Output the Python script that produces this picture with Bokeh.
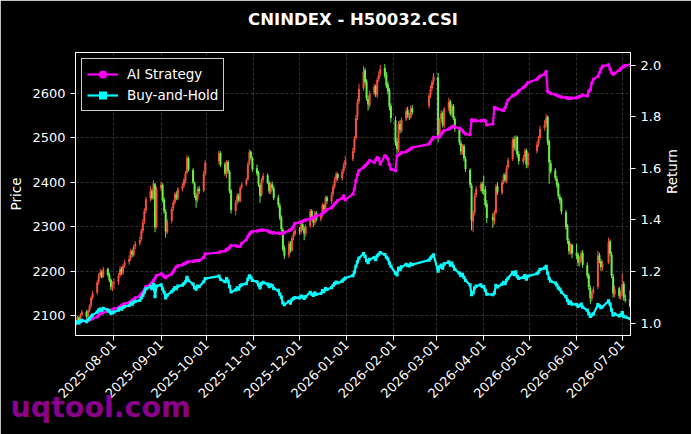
import math
import numpy as np
import pandas as pd
from bokeh.plotting import figure
from bokeh.models import (ColumnDataSource, Range1d, LinearAxis, FixedTicker,
                          DatetimeTickFormatter, PrintfTickFormatter, Title)
from bokeh.embed import file_html
from bokeh.resources import INLINE

FONT = "DejaVu Sans"
chart_title = "CNINDEX - H50032.CSI"
watermark_text = "uqtool.com"
series_names = ["AI Strategy", "Buy-and-Hold"]
first_day, last_day = "2025-07-07", "2026-07-06"
market_holidays = ["2025-10-01", "2025-10-02", "2025-10-03", "2025-10-06", "2025-10-07",
                   "2025-10-08", "2026-01-01", "2026-01-02", "2026-02-16", "2026-02-17",
                   "2026-02-18", "2026-02-19", "2026-02-20", "2026-02-23", "2026-04-06",
                   "2026-05-01", "2026-05-04", "2026-05-05", "2026-06-19"]
xtick_labels = ["2025-08-01", "2025-09-01", "2025-10-01", "2025-11-01", "2025-12-01",
                "2026-01-01", "2026-02-01", "2026-03-01", "2026-04-01", "2026-05-01",
                "2026-06-01", "2026-07-01"]
price_ticks = [2100, 2200, 2300, 2400, 2500, 2600]
return_ticks = [1.0, 1.2, 1.4, 1.6, 1.8, 2.0]

opens = [
    2080, 2086, 2097, 2089, 2103, 2109, 2099, 2113, 2123, 2141, 2152, 2176, 2191, 2199, 2189, 2206, 2193, 2181, 2163,
    2172, 2176, 2191, 2206, 2197, 2213, 2221, 2229, 2246, 2237, 2256, 2263, 2272, 2291, 2312, 2337, 2364, 2381, 2366, 2396, 2302,
    2387, 2394, 2361, 2334, 2288, 2314, 2342, 2354, 2374, 2364, 2386, 2393, 2404, 2422, 2454, 2428, 2398, 2371, 2362, 2386, 2382, 2421,
    2448, 2466, 2441, 2419, 2446, 2424, 2381, 2336, 2357, 2371, 2358, 2390, 2396, 2407, 2442, 2469, 2454,
    2432, 2421, 2394, 2372, 2406, 2416, 2399, 2378, 2396, 2387, 2366, 2348, 2321, 2294, 2252, 2236, 2263, 2247, 2277, 2284,
    2293, 2289, 2306, 2297, 2284, 2302, 2336, 2319, 2309, 2331, 2317, 2326, 2349, 2339, 2366, 2357, 2374, 2391, 2406, 2419, 2409, 2426, 2439,
    2452, 2472, 2500, 2547, 2582, 2612, 2652, 2627, 2588, 2573, 2602, 2617, 2596, 2632, 2644, 2657, 2642, 2620, 2607, 2572,
    2540, 2492, 2473, 2532, 2516, 2542, 2562, 2550, 2546, 2567, 2572, 2597, 2612, 2627,
    2636, 2503, 2542, 2556, 2528, 2567, 2582, 2553, 2572, 2543, 2518, 2488, 2468, 2482, 2453, 2428, 2393, 2312, 2332, 2372, 2387, 2397,
    2382, 2384, 2352, 2322, 2312, 2332, 2392, 2376, 2402, 2417, 2403, 2434, 2452, 2497, 2476, 2502, 2464, 2446, 2457, 2472, 2438,
    2470, 2487, 2500, 2522, 2532, 2548, 2492, 2443, 2427, 2408, 2397, 2368, 2362, 2333, 2302, 2268, 2243, 2260,
    2242, 2237, 2218, 2226, 2242, 2213, 2192, 2163, 2138, 2152, 2165, 2237, 2223, 2208, 2220, 2267, 2238, 2188, 2148, 2162, 2143,
    2152, 2172, 2138, 2137,
]
highs = [
    2092, 2100, 2099, 2106, 2114, 2112, 2115, 2126, 2145, 2156, 2180, 2196, 2206, 2203, 2210, 2208, 2197, 2184, 2178,
    2184, 2196, 2212, 2210, 2216, 2226, 2236, 2250, 2249, 2260, 2268, 2278, 2296, 2318, 2342, 2368, 2392, 2386, 2405, 2399, 2390,
    2402, 2398, 2366, 2340, 2318, 2345, 2360, 2378, 2380, 2390, 2398, 2410, 2426, 2462, 2458, 2432, 2402, 2376, 2390, 2392, 2426, 2450,
    2472, 2470, 2446, 2450, 2450, 2428, 2385, 2360, 2376, 2375, 2392, 2400, 2410, 2446, 2474, 2472, 2458,
    2440, 2426, 2398, 2410, 2422, 2420, 2404, 2400, 2402, 2392, 2372, 2354, 2326, 2298, 2258, 2268, 2268, 2280, 2290, 2298,
    2300, 2312, 2310, 2302, 2306, 2340, 2340, 2324, 2336, 2335, 2330, 2354, 2352, 2370, 2370, 2378, 2396, 2412, 2424, 2422, 2430, 2445, 2460,
    2478, 2504, 2552, 2588, 2622, 2662, 2658, 2632, 2595, 2606, 2622, 2620, 2636, 2650, 2664, 2666, 2648, 2626, 2612, 2578,
    2548, 2500, 2538, 2540, 2546, 2568, 2570, 2556, 2572, 2574, 2600, 2618, 2630, 2646,
    2646, 2545, 2562, 2560, 2570, 2590, 2586, 2576, 2576, 2548, 2522, 2494, 2486, 2486, 2458, 2432, 2398, 2336, 2376, 2392, 2400, 2402,
    2415, 2392, 2360, 2332, 2338, 2396, 2400, 2406, 2420, 2422, 2438, 2456, 2500, 2504, 2506, 2505, 2470, 2462, 2476, 2476, 2470,
    2492, 2505, 2528, 2540, 2554, 2550, 2496, 2450, 2432, 2414, 2400, 2374, 2366, 2338, 2306, 2274, 2264, 2262,
    2262, 2242, 2234, 2246, 2248, 2220, 2196, 2168, 2156, 2166, 2246, 2242, 2228, 2224, 2276, 2272, 2244, 2194, 2168, 2166, 2156,
    2195, 2178, 2148, 2157,
]
lows = [
    2074, 2082, 2084, 2085, 2099, 2094, 2095, 2108, 2118, 2136, 2148, 2170, 2186, 2184, 2185, 2188, 2176, 2158, 2155,
    2160, 2170, 2186, 2192, 2192, 2208, 2215, 2224, 2232, 2233, 2250, 2258, 2268, 2286, 2306, 2330, 2358, 2360, 2362, 2288, 2296,
    2380, 2355, 2330, 2276, 2284, 2308, 2336, 2350, 2360, 2360, 2380, 2388, 2398, 2418, 2425, 2396, 2365, 2343, 2355, 2374, 2378, 2415,
    2440, 2435, 2415, 2410, 2420, 2375, 2330, 2326, 2350, 2355, 2355, 2385, 2392, 2403, 2438, 2450, 2424,
    2415, 2390, 2354, 2368, 2400, 2396, 2374, 2374, 2382, 2360, 2344, 2315, 2290, 2245, 2228, 2230, 2242, 2244, 2270, 2280,
    2282, 2284, 2292, 2270, 2278, 2298, 2314, 2300, 2304, 2312, 2312, 2322, 2335, 2334, 2352, 2352, 2368, 2386, 2400, 2404, 2404, 2420, 2432,
    2448, 2466, 2496, 2540, 2576, 2606, 2618, 2584, 2562, 2568, 2596, 2592, 2590, 2626, 2638, 2634, 2612, 2598, 2562, 2535,
    2482, 2465, 2468, 2510, 2512, 2538, 2545, 2540, 2543, 2552, 2566, 2590, 2605, 2620,
    2490, 2498, 2536, 2524, 2522, 2560, 2550, 2548, 2540, 2514, 2484, 2462, 2462, 2448, 2424, 2388, 2292, 2288, 2326, 2366, 2380, 2374,
    2372, 2344, 2309, 2298, 2305, 2328, 2372, 2372, 2396, 2400, 2398, 2430, 2448, 2472, 2470, 2456, 2440, 2440, 2450, 2432, 2432,
    2465, 2480, 2496, 2516, 2526, 2484, 2397, 2420, 2404, 2388, 2364, 2352, 2328, 2294, 2262, 2238, 2238, 2230,
    2228, 2212, 2210, 2220, 2208, 2184, 2158, 2127, 2132, 2148, 2160, 2218, 2201, 2202, 2216, 2234, 2185, 2141, 2142, 2138, 2136,
    2146, 2134, 2130, 2119,
]
closes = [
    2085, 2096, 2088, 2102, 2108, 2098, 2112, 2122, 2140, 2150, 2175, 2190, 2198, 2188, 2205, 2192, 2180, 2165, 2170,
    2175, 2190, 2205, 2198, 2212, 2220, 2228, 2245, 2238, 2255, 2262, 2270, 2290, 2310, 2335, 2362, 2380, 2365, 2398, 2300, 2385,
    2395, 2360, 2335, 2290, 2312, 2340, 2355, 2372, 2365, 2385, 2392, 2405, 2420, 2455, 2430, 2400, 2372, 2360, 2385, 2380, 2420, 2445,
    2465, 2440, 2420, 2445, 2425, 2380, 2338, 2355, 2370, 2360, 2388, 2395, 2405, 2440, 2468, 2455, 2430,
    2420, 2395, 2370, 2405, 2415, 2400, 2380, 2395, 2388, 2365, 2350, 2320, 2295, 2250, 2235, 2262, 2248, 2275, 2285, 2292,
    2290, 2305, 2298, 2285, 2300, 2335, 2320, 2310, 2330, 2318, 2325, 2348, 2340, 2365, 2358, 2372, 2390, 2405, 2418, 2410, 2425, 2438, 2450,
    2470, 2498, 2545, 2580, 2610, 2648, 2625, 2590, 2575, 2600, 2615, 2598, 2630, 2642, 2655, 2640, 2618, 2605, 2570, 2545,
    2490, 2475, 2530, 2518, 2540, 2560, 2552, 2548, 2565, 2558, 2595, 2610, 2625, 2638,
    2505, 2540, 2555, 2530, 2565, 2580, 2555, 2570, 2545, 2520, 2490, 2470, 2480, 2455, 2430, 2395, 2315, 2330, 2370, 2385, 2395, 2380,
    2380, 2350, 2320, 2315, 2330, 2390, 2378, 2400, 2415, 2405, 2432, 2450, 2495, 2478, 2500, 2462, 2448, 2455, 2470, 2440, 2465,
    2485, 2498, 2520, 2530, 2545, 2490, 2445, 2425, 2410, 2395, 2370, 2360, 2335, 2300, 2270, 2245, 2258, 2240,
    2235, 2220, 2228, 2240, 2215, 2190, 2165, 2140, 2150, 2160, 2235, 2225, 2210, 2218, 2265, 2240, 2190, 2150, 2160, 2145, 2150,
    2170, 2140, 2135, 2122,
]
ai_strategy = [
    1.000, 1.003, 1.002, 1.006, 1.008, 1.010, 1.011, 1.013, 1.016, 1.018, 1.024, 1.030, 1.038, 1.040, 1.043, 1.046, 1.048, 1.050, 1.052,
    1.056, 1.060, 1.064, 1.068, 1.072, 1.075, 1.080, 1.084, 1.088, 1.093, 1.098, 1.105, 1.114, 1.120, 1.130, 1.142, 1.150, 1.158, 1.165, 1.175, 1.185,
    1.191, 1.188, 1.180, 1.176, 1.182, 1.191, 1.200, 1.210, 1.219, 1.222, 1.226, 1.230, 1.232, 1.236, 1.238, 1.240, 1.241, 1.242, 1.243, 1.243, 1.255, 1.269,
    1.274, 1.277, 1.280, 1.285, 1.288, 1.294, 1.301, 1.300, 1.298, 1.297, 1.298, 1.310, 1.324, 1.335, 1.345, 1.352, 1.355,
    1.357, 1.358, 1.360, 1.361, 1.361, 1.358, 1.354, 1.352, 1.350, 1.350, 1.349, 1.348, 1.348, 1.348, 1.352, 1.358, 1.362, 1.365, 1.375, 1.387,
    1.390, 1.392, 1.395, 1.398, 1.400, 1.404, 1.406, 1.410, 1.413, 1.416, 1.420, 1.426, 1.430, 1.435, 1.440, 1.447, 1.455, 1.462, 1.468, 1.475, 1.485, 1.494, 1.478,
    1.500, 1.520, 1.552, 1.575, 1.591, 1.604, 1.610, 1.615, 1.622, 1.630, 1.623, 1.632, 1.642, 1.638, 1.617, 1.649, 1.645, 1.636, 1.615, 1.597,
    1.591, 1.649, 1.652, 1.656, 1.661, 1.664, 1.668, 1.672, 1.676, 1.680, 1.694, 1.703, 1.712, 1.720,
    1.720, 1.722, 1.732, 1.740, 1.746, 1.752, 1.756, 1.760, 1.764, 1.760, 1.755, 1.752, 1.745, 1.738, 1.733, 1.730, 1.788, 1.784, 1.786, 1.784, 1.784, 1.785,
    1.786, 1.784, 1.768, 1.772, 1.836, 1.834, 1.830, 1.826, 1.824, 1.835, 1.850, 1.865, 1.881, 1.884, 1.888, 1.892, 1.900, 1.913, 1.917, 1.925, 1.932,
    1.945, 1.952, 1.958, 1.965, 1.975, 1.899, 1.895, 1.890, 1.886, 1.883, 1.880, 1.878, 1.876, 1.874, 1.872, 1.871, 1.871, 1.872,
    1.874, 1.876, 1.878, 1.880, 1.884, 1.880, 1.899, 1.905, 1.930, 1.945, 1.957, 1.970, 1.985, 1.995, 2.001, 1.985, 1.970, 1.965, 1.968, 1.980, 1.986,
    1.991, 1.995, 1.998, 2.001,
]

# ---- trading calendar ----
all_days = pd.bdate_range(first_day, last_day)
dates = all_days[~all_days.isin(pd.to_datetime(market_holidays))]
n = len(dates)
for nm, arr in [("opens", opens), ("highs", highs), ("lows", lows), ("closes", closes), ("ai", ai_strategy)]:
    if len(arr) != n:
        raise ValueError(f"{nm}: {len(arr)} values for {n} dates")

o = np.array(opens, float)
h = np.array(highs, float)
l = np.array(lows, float)
c = np.array(closes, float)
ai = np.array(ai_strategy, float)
bh = c / c[0]

RED = "#f2503c"
GREEN = "#6cf046"
MAGENTA = "#ff00ff"
CYAN = "#00ffff"
DAY = 86400000.0

src = ColumnDataSource(dict(
    x=dates, top=np.maximum(o, c), bottom=np.minimum(o, c), high=h, low=l,
    color=np.where(c >= o, RED, GREEN)))

x_start = dates[0] - pd.Timedelta(hours=6)
x_end = dates[-1] + pd.Timedelta(hours=10)

p = figure(width=691, height=434, x_axis_type="datetime", title=None,
           x_range=Range1d(x_start, x_end), y_range=Range1d(2055.8, 2692.1),
           output_backend="svg", toolbar_location=None,
           min_border_left=75, min_border_right=61, min_border_top=52, min_border_bottom=99)
p.extra_y_ranges = {"ret": Range1d(0.9524, 2.0488)}

p.background_fill_color = "black"
p.border_fill_color = "black"
p.outline_line_color = "white"
p.outline_line_width = 1

# title, lifted off the frame by a black (invisible on black) spacer next to the frame
spacer = Title(text=".", text_font_size="2px", text_color="black", standoff=20)
p.add_layout(spacer, "above")
main_title = Title(text=chart_title, align="center", text_color="white", text_font=FONT,
                   text_font_size="16.5px", text_font_style="bold", standoff=2)
p.add_layout(main_title, "above")

# candles
p.segment(x0="x", y0="low", x1="x", y1="high", line_color="color", line_width=1, source=src)
p.vbar(x="x", width=1.3 * DAY, top="top", bottom="bottom", fill_color="color",
       line_color=None, source=src)

# return lines
p.line(dates, ai, y_range_name="ret", line_color=MAGENTA, line_width=2.2, legend_label=series_names[0])
p.scatter(dates, ai, y_range_name="ret", marker="circle", size=3.6, fill_color=MAGENTA,
          line_color=None, legend_label=series_names[0])
p.line(dates, bh, y_range_name="ret", line_color=CYAN, line_width=2.2, legend_label=series_names[1])
p.scatter(dates, bh, y_range_name="ret", marker="square", size=3.2, fill_color=CYAN,
          line_color=None, legend_label=series_names[1])

# axes
xt = FixedTicker(ticks=[pd.Timestamp(s).value / 1e6 for s in xtick_labels])
fmt = "%Y-%m-%d"
p.xaxis.ticker = xt
p.xaxis.formatter = DatetimeTickFormatter(days=fmt, months=fmt, years=fmt, hours=fmt)
p.xaxis.major_label_orientation = math.pi / 4
p.xgrid.ticker = xt

yl = p.yaxis[0]
yl.ticker = FixedTicker(ticks=price_ticks)
yl.axis_label = "Price"
p.ygrid.ticker = FixedTicker(ticks=price_ticks)

yr = LinearAxis(y_range_name="ret", ticker=FixedTicker(ticks=return_ticks),
                formatter=PrintfTickFormatter(format="%.1f"), axis_label="Return")
if "axis_label_orientation" in LinearAxis.properties():
    yr.axis_label_orientation = math.pi / 2
p.add_layout(yr, "right")

for ax in [p.xaxis[0], yl, yr]:
    ax.axis_line_color = "white"
    ax.major_tick_line_color = "white"
    ax.minor_tick_line_color = None
    ax.major_tick_out = 5
    ax.major_tick_in = 0
    ax.major_label_text_color = "white"
    ax.major_label_text_font = FONT
    ax.major_label_text_font_size = "13px"
    ax.major_label_standoff = 5
    ax.axis_label_text_color = "white"
    ax.axis_label_text_font = FONT
    ax.axis_label_text_font_size = "13.5px"
    ax.axis_label_text_font_style = "normal"
    ax.axis_label_standoff = 8
p.xaxis.major_label_standoff = 2
yl.axis_label_standoff = 5
yr.axis_label_standoff = 8

for g in [p.xgrid[0], p.ygrid[0]]:
    g.grid_line_color = "white"
    g.grid_line_alpha = 0.28
    g.grid_line_dash = "3 2"
    g.grid_line_width = 0.7

# legend
lg = p.legend[0]
lg.location = "top_left"
lg.margin = 6
lg.padding = 5
lg.spacing = 1
lg.glyph_width = 31
lg.glyph_height = 20
lg.label_height = 20
lg.label_standoff = 9
lg.background_fill_color = "black"
lg.background_fill_alpha = 0.8
lg.border_line_color = "white"
lg.border_line_alpha = 0.8
lg.border_line_width = 1
lg.label_text_color = "white"
lg.label_text_font = FONT
lg.label_text_font_size = "13.5px"

# watermark below the date labels, at the left edge
wm = Title(text=watermark_text, align="left", vertical_align="top", offset=-65, standoff=-29,
           text_font=FONT, text_font_size="28.5px", text_font_style="bold",
           text_color="#8b008b")
p.add_layout(wm, "below")

html = file_html(p, INLINE, title=chart_title)
html = html.replace("<body>", '<body style="background-color:#000000;">', 1)
open("out.html", "w").write(html)
